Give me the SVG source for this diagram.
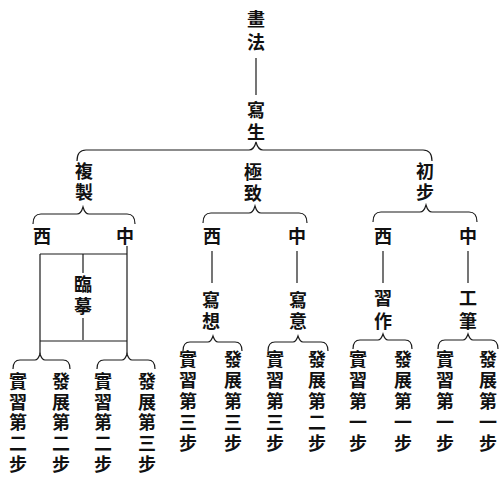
<svg xmlns="http://www.w3.org/2000/svg" width="503" height="479" viewBox="0 0 503 479">
<style>
text{font-family:"Noto Sans CJK TC","Noto Sans CJK SC",sans-serif;font-size:18px;font-weight:bold;fill:#111;text-anchor:middle;dominant-baseline:central}
text.v{writing-mode:vertical-rl;text-orientation:upright;text-anchor:start}
.s3{letter-spacing:3px}
.s275{letter-spacing:2.75px}
.s4{letter-spacing:4px}
.s5{letter-spacing:5px}
.c path,.c line{stroke:#1a1a1a;stroke-width:1.2;fill:none}
</style>
<rect width="503" height="479" fill="#fff"/>
<g class="c" id="connectors">
<line x1="256" y1="58" x2="256" y2="95"/>
<path d="M77,161 Q77,150 86,150 L249,150 Q254,150 256,142 Q258,150 263,150 L423,150 Q432,150 432,161"/>
<path d="M33,224 Q33,214 41,214 L77,214 Q81,214 83,207 Q85,214 89,214 L127,214 Q135,214 135,224"/>
<path d="M203,223 Q203,213 211,213 L249,213 Q253,213 255,206 Q257,213 261,213 L299,213 Q307,213 307,223"/>
<path d="M373,222 Q373,212 381,212 L420,212 Q424,212 426,205 Q428,212 432,212 L469,212 Q477,212 477,222"/>
<line x1="40" y1="254" x2="127" y2="254"/>
<line x1="40" y1="254" x2="40" y2="354"/>
<line x1="127" y1="246" x2="127" y2="354"/>
<line x1="83" y1="254" x2="83" y2="273"/>
<line x1="83" y1="318" x2="83" y2="340"/>
<line x1="40" y1="341" x2="127" y2="341"/>
<line x1="212" y1="251" x2="212" y2="283"/>
<line x1="297" y1="251" x2="297" y2="283"/>
<line x1="383" y1="251" x2="383" y2="283"/>
<line x1="468" y1="251" x2="468" y2="283"/>
<path d="M13,369 Q13,360 20,360 L35,360 Q38,360 40,354 Q42,360 45,360 L63,360 Q70,360 70,369"/>
<path d="M97,369 Q97,360 104,360 L122,360 Q125,360 127,354 Q129,360 132,360 L148,360 Q155,360 155,369"/>
<path d="M183,351 Q183,342 190,342 L208,342 Q211,342 213,336 Q215,342 218,342 L235,342 Q242,342 242,351"/>
<path d="M268,351 Q268,342 275,342 L293,342 Q296,342 298,336 Q300,342 303,342 L321,342 Q328,342 328,351"/>
<path d="M353,349 Q353,340 360,340 L378,340 Q381,340 383,334 Q385,340 388,340 L405,340 Q412,340 412,349"/>
<path d="M438,349 Q438,340 445,340 L463,340 Q466,340 468,334 Q470,340 473,340 L491,340 Q498,340 498,349"/>
</g>
<g id="n-huafa"><text class="v s5" x="256" y="10">畫法</text></g>
<g id="n-xiesheng"><text class="v s4" x="256" y="101">寫生</text></g>
<g id="n-fuzhi"><text class="v s3" x="84" y="162">複製</text></g>
<g id="n-jizhi"><text class="v s3" x="253" y="163">極致</text></g>
<g id="n-chubu"><text class="v s3" x="425" y="162">初步</text></g>
<g id="n-l-xi"><text x="42" y="235">西</text></g>
<g id="n-l-zhong"><text x="125" y="235">中</text></g>
<g id="n-m-xi"><text x="212" y="235">西</text></g>
<g id="n-m-zhong"><text x="297" y="235">中</text></g>
<g id="n-r-xi"><text x="383" y="235">西</text></g>
<g id="n-r-zhong"><text x="468" y="235">中</text></g>
<g id="n-linmo"><text class="v s4" x="83" y="275">臨摹</text></g>
<g id="n-xiexiang"><text class="v s3" x="211" y="291">寫想</text></g>
<g id="n-xieyi"><text class="v s3" x="298" y="291">寫意</text></g>
<g id="n-xizuo"><text class="v s5" x="383" y="289">習作</text></g>
<g id="n-gongbi"><text class="v s5" x="468" y="289">工筆</text></g>
<g id="leaf1"><text class="v s275" x="18" y="372">實習第二步</text></g>
<g id="leaf2"><text class="v s275" x="61" y="372">發展第二步</text></g>
<g id="leaf3"><text class="v s275" x="103" y="372">實習第二步</text></g>
<g id="leaf4"><text class="v s275" x="147" y="372">發展第三步</text></g>
<g id="leaf5"><text class="v s3" x="188" y="350">實習第三步</text></g>
<g id="leaf6"><text class="v s3" x="233" y="350">發展第三步</text></g>
<g id="leaf7"><text class="v s3" x="275" y="350">實習第三步</text></g>
<g id="leaf8"><text class="v s3" x="317" y="350">發展第二步</text></g>
<g id="leaf9"><text class="v s3" x="358" y="350">實習第一步</text></g>
<g id="leaf10"><text class="v s3" x="403" y="350">發展第一步</text></g>
<g id="leaf11"><text class="v s3" x="445" y="350">實習第一步</text></g>
<g id="leaf12"><text class="v s3" x="488" y="350">發展第一步</text></g>
</svg>
